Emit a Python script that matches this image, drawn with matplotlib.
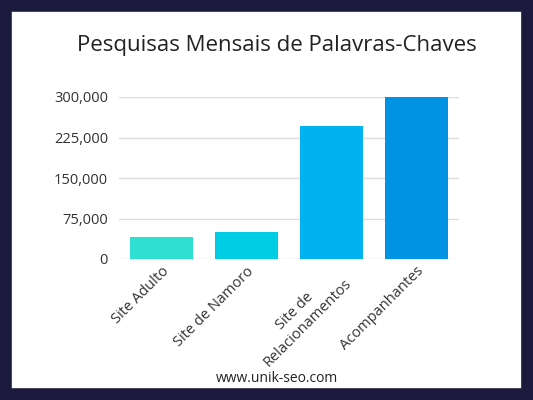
import matplotlib
matplotlib.use("Agg")
import matplotlib.pyplot as plt
from matplotlib.patches import Rectangle

plt.rcParams['font.family'] = ['Open Sans', 'DejaVu Sans']

categories = ["Site Adulto", "Site de Namoro", "Site de\nRelacionamentos", "Acompanhantes"]
values = [40000, 50000, 247000, 300000]
colors = ["#2ee0d2", "#00cde3", "#00b2ef", "#0092e3"]
yticks = [0, 75000, 150000, 225000, 300000]

W, H = 533, 400
fig = plt.figure(figsize=(W/100, H/100), dpi=100)
fig.patches.append(Rectangle((0, 0), 1, 1, transform=fig.transFigure, fill=False,
                             edgecolor="#1c1a3c", linewidth=17))
ax = fig.add_axes([119/W, 1-259/H, 340/W, (259-97)/H])
ax.bar(range(4), values, width=0.74, color=colors, zorder=2)
ax.set_xlim(-0.5, 3.5)
ax.set_ylim(0, 300000)
ax.set_yticks(yticks)
ax.set_yticklabels([f"{v:,}" for v in yticks])
ax.grid(axis="y", color="#dddddd", linewidth=1, zorder=0)
for s in ax.spines.values():
    s.set_visible(False)
ax.tick_params(length=0, labelsize=10.5, colors="#333333")
ax.tick_params(axis="y", pad=8)
ax.set_xticks(range(4))
ax.set_xticklabels(categories, rotation=45, ha="right", rotation_mode="anchor",
                   fontsize=10.5, multialignment="center")
fig.text(0.52, 1-45/H, "Pesquisas Mensais de Palavras-Chaves", ha="center", va="center",
         fontsize=16, color="#222222")
fig.text(0.52, 1-378/H, "www.unik-seo.com", ha="center", va="center", fontsize=10, color="#222222")
fig.savefig("out.png", dpi=100)
